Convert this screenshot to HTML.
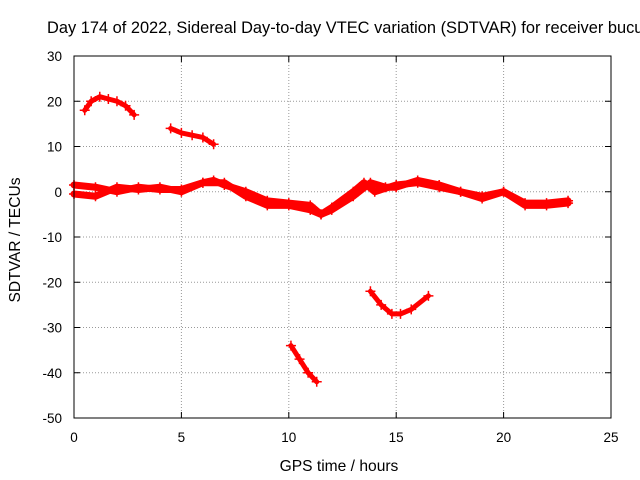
<!DOCTYPE html>
<html><head><meta charset="utf-8"><style>
body{margin:0;background:#fff}
svg{display:block;font-family:"Liberation Sans",sans-serif}
</style></head><body>
<svg id="chart" width="640" height="480">
<text x="47" y="33" font-size="16.4">Day 174 of 2022, Sidereal Day-to-day VTEC variation (SDTVAR) for receiver bucu</text>
<text x="339" y="471" font-size="15.6" text-anchor="middle">GPS time / hours</text>
<text transform="translate(20,240) rotate(-90)" font-size="15.6" text-anchor="middle">SDTVAR / TECUs</text>
<g id="grid"></g><g id="series"></g>
<rect x="74" y="56" width="537" height="362" fill="none" stroke="#000"/>
</svg>
<script>
const xTicks=[0,5,10,15,20,25];
const yTicks=[30,20,10,0,-10,-20,-30,-40,-50];
const segAHours=[0.5,0.8,1.2,1.6,2.0,2.4,2.8];
const segAValues=[18,20,21,20.5,20,19,17];
const segBHours=[4.5,5,5.5,6,6.5];
const segBValues=[14,13,12.5,12,10.5];
const segCHours=[10.1,10.5,10.9,11.3];
const segCValues=[-34,-37,-40,-42];
const segDHours=[13.8,14.3,14.8,15.2,15.7,16.5];
const segDValues=[-22,-25,-27,-27,-26,-23];
const band1Hours=[0,1,2,3,4,5,6,6.5,7,8,9,10,11,11.5,12,13,13.8,14.5,15,16,17,18,19,20,21,22,23];
const band1Values=[1.5,1,0,1,0.5,0.5,2,2.5,1.5,0,-2,-2.5,-3,-5,-4,-1,2,1,1,2.5,1.5,0,-1,0,-2.5,-2.5,-2];
const band2Hours=[0,1,2,3,4,5,6,7,8,9,10,11,11.5,12,13,13.5,14,15,16,17,18,19,20,21,22,23];
const band2Values=[-0.5,-1,1,0.5,1,0,2,2,-1,-3,-3,-4,-5,-3.5,0,2,0,1.5,2,1,0,-1.5,0,-3,-3,-2.5];
const X=h=>74+h/25*537, Y=v=>56+(30-v)/80*362;
const NS="http://www.w3.org/2000/svg";
const grid=document.getElementById('grid'), ser=document.getElementById('series'), svg=document.getElementById('chart');
function mk(t,a,p){const e=document.createElementNS(NS,t);for(const k in a)e.setAttribute(k,a[k]);p.appendChild(e);return e;}
xTicks.forEach(t=>{const x=X(t);
 if(t>0&&t<25){const g=mk('line',{x1:x,x2:x,y1:56,y2:418,stroke:'#999','stroke-dasharray':'1,2'},grid);
 
 }
 mk('line',{x1:x,x2:x,y1:418,y2:412,stroke:'#000'},grid);mk('line',{x1:x,x2:x,y1:56,y2:62,stroke:'#000'},grid);
 const l=mk('text',{x:x,y:442,'font-size':13.5,'text-anchor':'middle'},svg);l.textContent=t;
 
 });
yTicks.forEach(t=>{const y=Y(t);
 if(t<30&&t>-50){const g=mk('line',{x1:74,x2:611,y1:y,y2:y,stroke:'#999','stroke-dasharray':'1,2'},grid);
 
 }
 mk('line',{x1:74,x2:80,y1:y,y2:y,stroke:'#000'},grid);mk('line',{x1:611,x2:605,y1:y,y2:y,stroke:'#000'},grid);
 const l=mk('text',{x:62,y:y+5,'font-size':13.5,'text-anchor':'end'},svg);l.textContent=t;
 
 });
function draw(hs,vs,name,w){
 const p=mk('polyline',{points:hs.map((h,i)=>X(h)+','+Y(vs[i])).join(' '),fill:'none',stroke:'#f00','stroke-width':w,'stroke-linejoin':'round','stroke-linecap':'round'},ser);
 
 
 hs.forEach((h,i)=>{const x=X(h),y=Y(vs[i]);
  mk('path',{d:`M${x-5},${y}h10M${x},${y-5}v10`,stroke:'#f00','stroke-width':1.5},ser);});
}
draw(segAHours,segAValues,'series-arc-20',5);
draw(segBHours,segBValues,'series-segment-12',5);
draw(segCHours,segCValues,'series-segment-minus40',5);
draw(segDHours,segDValues,'series-arc-minus25',5);
draw(band1Hours,band1Values,'series-band-1',7);
draw(band2Hours,band2Values,'series-band-2',7);
</script>
</body></html>
